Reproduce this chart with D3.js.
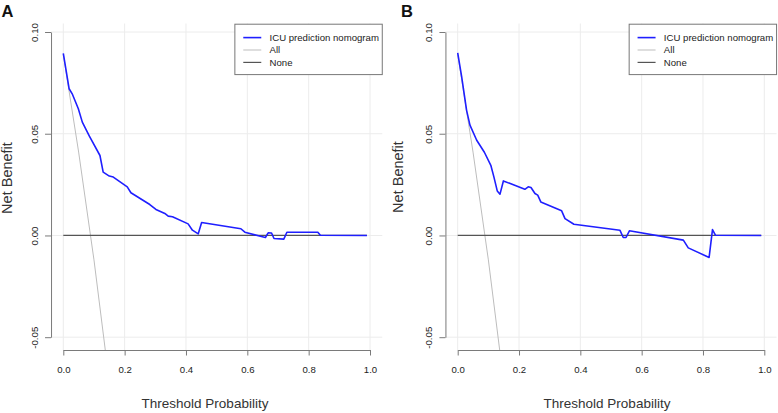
<!DOCTYPE html>
<html>
<head>
<meta charset="utf-8">
<script src="https://cdn.jsdelivr.net/npm/d3@7"></script>
<style>
  html, body { margin: 0; padding: 0; background: #fff; }
  svg { display: block; font-family: "Liberation Sans", Arial, Helvetica, sans-serif; }
</style>
</head>
<body>
<svg id="chart" width="778" height="413"></svg>
<script>
// ---------- data ----------
const panelLetters = ["A", "B"];
const seriesNames = ["ICU prediction nomogram", "All", "None"];
const xTicks = [0, 0.2, 0.4, 0.6, 0.8, 1.0];
const xTickLabels = ["0.0", "0.2", "0.4", "0.6", "0.8", "1.0"];
const yTicks = [-0.05, 0, 0.05, 0.10];
const yTickLabels = ["-0.05", "0.00", "0.05", "0.10"];

// Panel A: ICU prediction nomogram
const thresholdA = [0, 0.019, 0.030, 0.049, 0.062, 0.085, 0.1195, 0.130, 0.150, 0.163,
  0.2085, 0.2205, 0.282, 0.302, 0.331, 0.342, 0.356, 0.407, 0.421, 0.440,
  0.451, 0.579, 0.592, 0.659, 0.668, 0.679, 0.687, 0.719, 0.729, 0.830, 0.838, 0.99];
const netBenefitA = [0.0895, 0.0721, 0.0693, 0.0623, 0.0557, 0.0488, 0.0393, 0.0311, 0.0292, 0.0287,
  0.0239, 0.0210, 0.0152, 0.0128, 0.0108, 0.0095, 0.0092, 0.0057, 0.0026, 0.0008,
  0.0064, 0.0033, 0.0016, -0.0010, 0.0013, 0.0012, -0.0015, -0.0018, 0.0016, 0.0016, 0.0001, 0];

// Panel B: ICU prediction nomogram
const thresholdB = [0, 0.013, 0.029, 0.040, 0.062, 0.087, 0.108, 0.118, 0.129, 0.138,
  0.149, 0.219, 0.230, 0.239, 0.252, 0.261, 0.271, 0.339, 0.350, 0.379,
  0.529, 0.540, 0.549, 0.560, 0.736, 0.752, 0.820, 0.831, 0.841, 0.99];
const netBenefitB = [0.0897, 0.0779, 0.0615, 0.0542, 0.0468, 0.0409, 0.0345, 0.0288, 0.0219, 0.0203,
  0.0268, 0.0227, 0.0239, 0.0236, 0.0206, 0.0198, 0.0165, 0.0121, 0.0083, 0.0055,
  0.0026, -0.0010, -0.0010, 0.0023, -0.0023, -0.0061, -0.0108, 0.0029, 0.0001, 0];

// "All" (treat all) reference line, same for both panels
const thresholdAll = [0, 0.05, 0.10, 0.15];
const netBenefitAll = [0.089, 0.041, -0.012, -0.072];

// "None" reference line
const thresholdNone = [0, 0.99];
const netBenefitNone = [0, 0];

// ---------- layout ----------
const panels = [
  { letter: panelLetters[0], x0: 63.3, x1: 370.0, letterX: 1.5, ylabX: 12, ylabY: 178, xlabX: 205,
    tx: thresholdA, nb: netBenefitA },
  { letter: panelLetters[1], x0: 457.7, x1: 764.3, letterX: 401, ylabX: 402.5, ylabY: 177, xlabX: 607,
    tx: thresholdB, nb: netBenefitB }
];
const yTop = 32.0, yBot = 337.2;   // pixel positions of 0.10 and -0.05
const regionTop = 23.5, regionBot = 350;

const colors = { model: "#1f1fff", all: "#bdbdbd", none: "#555555", axis: "#7a7a7a", grid: "#ececec", text: "#222" };

const svg = d3.select("#chart");

panels.forEach((p, i) => {
  const x = d3.scaleLinear().domain([0, 1]).range([p.x0, p.x1]);
  const y = d3.scaleLinear().domain([-0.05, 0.10]).range([yBot, yTop]);
  const left = x(-0.04), right = x(1.04);

  const g = svg.append("g");

  // clip path for plot region
  const clipId = "clip" + i;
  svg.append("defs").append("clipPath").attr("id", clipId)
    .append("rect").attr("x", left).attr("y", regionTop)
    .attr("width", right - left).attr("height", regionBot - regionTop);

  // grid
  g.append("g").selectAll("line.v").data(xTicks).join("line")
    .attr("x1", d => x(d)).attr("x2", d => x(d))
    .attr("y1", regionTop).attr("y2", regionBot)
    .attr("stroke", colors.grid).attr("stroke-width", 1);
  g.append("g").selectAll("line.h").data(yTicks).join("line")
    .attr("x1", left).attr("x2", right)
    .attr("y1", d => y(d)).attr("y2", d => y(d))
    .attr("stroke", colors.grid).attr("stroke-width", 1);

  const line = d3.line().x(d => x(d[0])).y(d => y(d[1]));
  const plot = g.append("g").attr("clip-path", `url(#${clipId})`);

  // All
  plot.append("path")
    .datum(thresholdAll.map((t, k) => [t, netBenefitAll[k]]))
    .attr("d", line).attr("fill", "none")
    .attr("stroke", colors.all).attr("stroke-width", 1);
  // None
  plot.append("path")
    .datum(thresholdNone.map((t, k) => [t, netBenefitNone[k]]))
    .attr("d", line).attr("fill", "none")
    .attr("stroke", colors.none).attr("stroke-width", 1.3);
  // Model
  plot.append("path")
    .datum(p.tx.map((t, k) => [t, p.nb[k]]))
    .attr("d", line).attr("fill", "none")
    .attr("stroke", colors.model).attr("stroke-width", 1.6)
    .attr("stroke-linejoin", "round");

  // y axis
  const ya = g.append("g").attr("transform", `translate(${left},0)`)
    .call(d3.axisLeft(y).tickValues(yTicks).tickFormat((d, k) => yTickLabels[k])
      .tickSize(6).tickSizeOuter(0));
  ya.select(".domain").attr("stroke", colors.axis);
  ya.selectAll(".tick line").attr("stroke", colors.axis);
  ya.selectAll(".tick text")
    .attr("x", null).attr("dy", null)
    .attr("text-anchor", "middle")
    .attr("transform", "translate(-13.4,0) rotate(-90)")
    .attr("font-size", 9.7).attr("fill", colors.text)
    .attr("font-family", "Liberation Sans, Arial, sans-serif");

  // x axis
  const xa = g.append("g").attr("transform", `translate(0,${regionBot})`)
    .call(d3.axisBottom(x).tickValues(xTicks).tickFormat((d, k) => xTickLabels[k])
      .tickSize(5.5).tickSizeOuter(0));
  xa.select(".domain").attr("stroke", colors.axis);
  xa.selectAll(".tick line").attr("stroke", colors.axis);
  xa.selectAll(".tick text")
    .attr("y", 22.7).attr("dy", null)
    .attr("font-size", 9.6).attr("fill", colors.text)
    .attr("font-family", "Liberation Sans, Arial, sans-serif");

  // axis titles
  g.append("text").attr("x", p.xlabX).attr("y", 407.5)
    .attr("text-anchor", "middle").attr("font-size", 13.5).attr("fill", "#333")
    .text("Threshold Probability");
  g.append("text")
    .attr("transform", `translate(${p.ylabX},${p.ylabY}) rotate(-90)`)
    .attr("text-anchor", "middle").attr("font-size", 14.5).attr("fill", "#333")
    .text("Net Benefit");

  // panel letter
  g.append("text").attr("x", p.letterX).attr("y", 17)
    .attr("font-size", 16.5).attr("font-weight", "bold").attr("fill", "#111")
    .text(p.letter);

  // legend
  const lw = 147.4, lh = 50.4;
  const lx = right - lw, ly = 24.2;
  const leg = g.append("g");
  leg.append("rect").attr("x", lx).attr("y", ly).attr("width", lw).attr("height", lh)
    .attr("fill", "#fff").attr("stroke", "#777").attr("stroke-width", 1);
  const legColors = [colors.model, colors.all, colors.none];
  const legWidths = [1.6, 1, 1.2];
  seriesNames.forEach((name, k) => {
    const yy = ly + 13.4 + k * 12.4;
    leg.append("line").attr("x1", lx + 8.4).attr("x2", lx + 26.4)
      .attr("y1", yy).attr("y2", yy)
      .attr("stroke", legColors[k]).attr("stroke-width", legWidths[k]);
    leg.append("text").attr("x", lx + 34.7).attr("y", yy + 3.4)
      .attr("font-size", 9.6).attr("fill", colors.text).text(name);
  });
});
</script>
</body>
</html>
